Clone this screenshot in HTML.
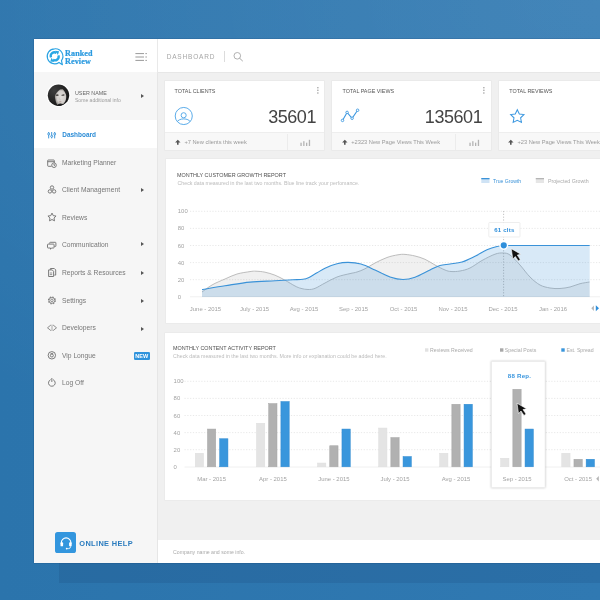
<!DOCTYPE html>
<html>
<head>
<meta charset="utf-8">
<title>Dashboard</title>
<style>
*{margin:0;padding:0;box-sizing:border-box;}
html,body{width:600px;height:600px;overflow:hidden;}
body{position:relative;font-family:"Liberation Sans",sans-serif;color:#777;
  background:#2d76ae;
  background-image:radial-gradient(ellipse 900px 520px at 100% 0%, rgba(255,255,255,.095) 0%, rgba(255,255,255,.05) 45%, rgba(255,255,255,0) 100%),linear-gradient(90deg,#2b74ac 0%,#3079b2 100%);}
.abs{position:absolute;}
.t{position:absolute;white-space:nowrap;line-height:10px;height:10px;margin-top:-5px;}
#shadow{left:59px;top:563px;width:541px;height:20px;background:rgba(15,45,90,.13);}
#panel{left:33.800px;top:39.100px;width:567px;height:523.800px;background:#f0f0f0;box-shadow:0 -.4px 1.200px rgba(0,20,60,.45);}
#side{left:33.800px;top:72px;width:124.200px;height:490.900px;background:#f6f6f6;border-right:1px solid #e6e6e6;}
#top{left:33.800px;top:39.100px;width:567px;height:33.700px;background:#fff;border-bottom:1px solid #e7e7e7;}
#topdiv{left:157px;top:39.100px;width:1px;height:33.700px;background:#e9e9e9;}
#active{left:33.800px;top:119.7px;width:123.200px;height:28.3px;background:#fff;}
.mi{font-size:6.7px;color:#777;left:62px;}
.arr{position:absolute;left:141px;width:0;height:0;border-left:3px solid #555;border-top:2.2px solid transparent;border-bottom:2.2px solid transparent;margin-top:-2.2px;}
.card{position:absolute;top:80.800px;height:69.400px;background:#f8f8f8;box-shadow:0 0 0 .6px #e7e7e7;}
.card .w{position:absolute;left:0;top:0;right:0;height:52.300px;background:#fff;border-bottom:.7px solid #eee;}
.card .dv{position:absolute;top:53px;bottom:0;width:1px;background:#ececec;}
.ct{font-size:5.4px;color:#555;}
.num{position:absolute;font-size:18px;line-height:20px;height:20px;color:#444;letter-spacing:-.45px;white-space:nowrap;}
.ft{font-size:5.7px;color:#999;}
.box{position:absolute;background:#fff;box-shadow:0 0 0 .6px #e8e8e8;}
.ax{font-size:5.95px;color:#a2a2a2;}
.sub{font-size:5.2px;color:#bbb;}
</style>
</head>
<body>
<div id="wrap" style="position:absolute;left:0;top:0;width:600px;height:600px;will-change:transform">
<div id="shadow" class="abs"></div>
<div id="panel" class="abs"></div>
<div id="top" class="abs"></div>
<div id="side" class="abs"></div>
<div id="topdiv" class="abs"></div>
<div id="active" class="abs"></div>

<!-- LOGO -->
<svg class="abs" style="left:44px;top:46px" width="22" height="22" viewBox="0 0 22 22">
  <path d="M10.700 2.800a7.500 7.500 0 1 0 4.300 13.650l3.400 2.300-.95-4.100A7.500 7.500 0 0 0 10.700 2.800z" fill="#fff" stroke="#2ba3e3" stroke-width="1.150" stroke-linejoin="round"/>
  <g fill="none" stroke="#2aa7e4" stroke-width="2.300">
    <path d="M7 11.400A3.700 3.700 0 0 1 12.400 6.900"/>
    <path d="M14.400 9.300A3.700 3.700 0 0 1 9 13.800"/>
  </g>
  <path d="M11.200 4.800l3.900.4-1.200 3.800z" fill="#2aa7e4"/>
  <path d="M10.200 15.900l-3.900-.4 1.200-3.800z" fill="#2aa7e4"/>
</svg>
<div class="t" style="left:65px;top:53.500px;font-family:'Liberation Serif',serif;font-weight:bold;font-size:8.1px;color:#2c9be0;letter-spacing:.12px;-webkit-text-stroke:.22px #2c9be0">Ranked</div>
<div class="t" style="left:65px;top:61.600px;font-family:'Liberation Serif',serif;font-weight:bold;font-size:8.1px;color:#2c9be0;letter-spacing:.12px;-webkit-text-stroke:.22px #2c9be0">Review</div>
<div class="t" style="left:70.500px;top:57.500px;font-size:2.4px;color:#7cc4ec">by</div>

<!-- hamburger -->
<svg class="abs" style="left:134px;top:50px" width="16" height="14" viewBox="0 0 16 14">
  <g stroke="#9a9a9a" stroke-width="1">
    <path d="M1.400 3.600h8.600M11.400 3.600h1.500M1.400 7h8.600M11.400 7h1.500M1.400 10.400h8.600M11.400 10.400h1.500"/>
  </g>
</svg>

<!-- top bar -->
<div class="t" style="left:166.700px;top:56.8px;font-size:6.5px;letter-spacing:.82px;color:#a6a6a6">DASHBOARD</div>
<div class="abs" style="left:224px;top:51px;width:1px;height:10.5px;background:#dcdcdc"></div>
<svg class="abs" style="left:231px;top:50px" width="14" height="13" viewBox="0 0 14 13">
  <circle cx="6.300" cy="5.800" r="3.300" fill="none" stroke="#a8a8a8" stroke-width=".9"/>
  <path d="M8.700 8.300l2.800 2.600" stroke="#a8a8a8" stroke-width="1" stroke-linecap="round"/>
</svg>

<!-- user -->
<svg class="abs" style="left:46px;top:83px" width="25" height="25" viewBox="0 0 25 25">
  <defs><clipPath id="av"><circle cx="12.500" cy="12.200" r="10.700"/></clipPath>
  <radialGradient id="fg" cx=".55" cy=".5" r=".62"><stop offset="0" stop-color="#e2dfdc"/><stop offset=".6" stop-color="#d2cecb"/><stop offset="1" stop-color="#77736f"/></radialGradient>
  <radialGradient id="hg" cx=".3" cy=".3" r=".7"><stop offset="0" stop-color="#3d3d3d"/><stop offset="1" stop-color="#181818"/></radialGradient></defs>
  <circle cx="12.500" cy="12.200" r="11.900" fill="#fff"/>
  <circle cx="12.500" cy="12.200" r="10.700" fill="url(#hg)"/>
  <g clip-path="url(#av)">
    <path d="M14 6.500C11.500 8.300 9.200 11 8.900 13.200C9 16.300 10 19.700 11.300 22L16 22C18 20.700 19.500 18.600 19.800 17C20.400 15 20.400 13 20 11.600C19.300 9.400 18 7.200 16.700 6.200Z" fill="url(#fg)"/>
    <path d="M9.600 11.800l2.300-.5 1 .9-1.300.7-1.700-.2z" fill="#45423f"/>
    <path d="M15.200 11.900l2.500-.7 1.200.7-1.200.9-1.900-.1z" fill="#45423f"/>
    <path d="M13.400 14.500l.3 2.200 1.300.2" fill="none" stroke="#bdb8b3" stroke-width=".4"/>
    <ellipse cx="14.200" cy="18.800" rx="1.500" ry=".55" fill="#b39e99" transform="rotate(-6 14.200 18.800)"/>
    <path d="M11 24l.6-2.500 2.500-1 4 .8 3 3z" fill="#1d1d1d"/>
  </g>
</svg>
<div class="t" style="left:75px;top:93.100px;font-size:5.35px;color:#666">USER NAME</div>
<div class="t" style="left:75px;top:100.200px;font-size:5.05px;color:#9c9c9c">Some additional info</div>
<div class="arr" style="top:96.300px"></div>

<!-- MENU -->
<svg class="abs" style="left:46px;top:130px" width="12" height="10" viewBox="0 0 12 10">
  <g stroke="#2b8cd6" stroke-width=".9" fill="none">
    <path d="M2.700 2v6.400M5.700 2v6.400M8.700 2v6.400"/>
  </g>
  <g fill="#fff" stroke="#2b8cd6" stroke-width=".8"><circle cx="2.700" cy="4" r="1"/><circle cx="5.700" cy="6.300" r="1"/><circle cx="8.700" cy="4" r="1"/></g>
</svg>
<div class="t" style="left:62.300px;top:135px;font-size:6.45px;font-weight:bold;color:#2b8cd6">Dashboard</div>

<svg class="abs" style="left:46px;top:158px" width="12" height="11" viewBox="0 0 12 11">
  <g stroke="#6d6d6d" stroke-width=".9" fill="none" stroke-linejoin="round">
    <path d="M5.500 8.300H2.300a.6.600 0 0 1-.6-.6V2.600a.6.600 0 0 1 .6-.6h5.400a.6.600 0 0 1 .6.600v2.300M1.700 3.700h6.600"/>
    <circle cx="8" cy="7.200" r="2.300" fill="#f6f6f6"/>
    <path d="M8 6v1.300h1"/>
  </g>
</svg>
<div class="t mi" style="top:162.500px">Marketing Planner</div>

<svg class="abs" style="left:46px;top:184px" width="12" height="11" viewBox="0 0 12 11">
  <g stroke="#6d6d6d" stroke-width=".9" fill="none">
    <circle cx="6" cy="3.500" r="1.700"/><circle cx="3.900" cy="7.400" r="1.700"/><circle cx="8.100" cy="7.400" r="1.700"/>
  </g>
</svg>
<div class="t mi" style="top:190px">Client Management</div>
<div class="arr" style="top:190.300px"></div>

<svg class="abs" style="left:46px;top:211px" width="12" height="11" viewBox="0 0 12 11">
  <path d="M6 2.100l1.250 2.550 2.800.4-2.030 1.980.48 2.800L6 8.500 3.500 9.830l.48-2.800L1.950 5.050l2.800-.4z" stroke="#6d6d6d" stroke-width=".9" fill="none" stroke-linejoin="round"/>
</svg>
<div class="t mi" style="top:217.500px">Reviews</div>

<svg class="abs" style="left:46px;top:240px" width="12" height="11" viewBox="0 0 12 11">
  <g stroke="#6d6d6d" stroke-width=".9" fill="none" stroke-linejoin="round">
    <path d="M3.700 3.600V2.900a.6.600 0 0 1 .6-.6h5a.6.600 0 0 1 .6.600v3a.6.600 0 0 1-.6.600H8.500"/>
    <path d="M2.100 4.100h5.400a.6.600 0 0 1 .6.600v2.700a.6.600 0 0 1-.6.600H5.800l-1.300 1.200V8H2.100a.6.600 0 0 1-.6-.6V4.700a.6.600 0 0 1 .6-.6z"/>
  </g>
</svg>
<div class="t mi" style="top:245px">Communication</div>
<div class="arr" style="top:244.500px"></div>

<svg class="abs" style="left:46px;top:266px" width="12" height="12" viewBox="0 0 12 12">
  <g stroke="#6d6d6d" stroke-width=".9" fill="none" stroke-linejoin="round">
    <path d="M4.400 3.700V2.500h3.900l1.400 1.400v5.200H8.300"/>
    <path d="M2.600 3.900h3.600l1.400 1.400v5.200h-5z"/>
    <path d="M3.800 7h2.400M3.800 8.600h2.400" stroke-width=".7"/>
  </g>
</svg>
<div class="t mi" style="top:272.800px">Reports &amp; Resources</div>
<div class="arr" style="top:273px"></div>

<svg class="abs" style="left:46px;top:294.600px" width="12" height="11" viewBox="0 0 12 11">
  <g stroke="#777" fill="none">
    <circle cx="5.900" cy="5.400" r="3.200" stroke-width="1.500" stroke-dasharray="1.400 1.113"/>
    <circle cx="5.900" cy="5.400" r="2.900" stroke-width=".85" fill="#f6f6f6"/>
    <circle cx="5.900" cy="5.400" r="1.250" stroke-width=".8"/>
  </g>
</svg>
<div class="t mi" style="top:300.500px">Settings</div>
<div class="arr" style="top:301px"></div>

<svg class="abs" style="left:46px;top:322.200px" width="12" height="11" viewBox="0 0 12 11">
  <g stroke="#7a7a7a" stroke-width=".85" fill="none" stroke-linejoin="round">
    <path d="M4.900 3L1.500 5.800l3.400 2.800M7.100 3l3.400 2.800-3.400 2.800"/><path d="M6 2.600v6.400" stroke="#999"/>
  </g>
</svg>
<div class="t mi" style="top:328.300px">Developers</div>
<div class="arr" style="top:328.800px"></div>

<svg class="abs" style="left:46px;top:350px" width="12" height="11" viewBox="0 0 12 11">
  <g stroke="#6d6d6d" stroke-width=".9" fill="none">
    <circle cx="5.850" cy="5.300" r="3.700"/><circle cx="5.850" cy="5.500" r="1.500"/><path d="M4.600 3.600h2.500" stroke-width=".8"/>
  </g>
</svg>
<div class="t mi" style="top:355.800px">Vip Longue</div>
<div class="abs" style="left:133.700px;top:352px;width:16.200px;height:8.200px;border-radius:1.300px;background:#2f93dc"></div>
<div class="t" style="left:133.700px;width:16.200px;text-align:center;top:356.150px;font-size:5.5px;font-weight:bold;color:#fff;letter-spacing:.15px">NEW</div>

<svg class="abs" style="left:46px;top:377px" width="12" height="11" viewBox="0 0 12 11">
  <g stroke="#6d6d6d" stroke-width=".9" fill="none" stroke-linecap="round">
    <path d="M4.300 2.800a3.400 3.400 0 1 0 3.100 0M5.850 1.400v3.200"/>
  </g>
</svg>
<div class="t mi" style="top:383.300px">Log Off</div>

<!-- online help -->
<div class="abs" style="left:55.400px;top:532.300px;width:20.500px;height:20.600px;border-radius:2.600px;background:#3396de"></div>
<svg class="abs" style="left:55.500px;top:532.800px" width="20.200" height="20" viewBox="0 0 20.200 20">
  <path d="M5.300 10.600V9.700a4.800 4.800 0 0 1 9.600 0v.9" fill="none" stroke="#fff" stroke-width="1.100"/>
  <rect x="4.500" y="9.300" width="2.600" height="4" rx=".9" fill="#fff"/>
  <rect x="13.100" y="9.300" width="2.600" height="4" rx=".9" fill="#fff"/>
  <path d="M14.600 13v.6a2 2 0 0 1-2 2h-1.400" fill="none" stroke="#fff" stroke-width=".8"/>
  <circle cx="10.700" cy="15.600" r=".9" fill="#fff"/>
</svg>
<div class="t" style="left:79.300px;top:543.800px;font-size:7.4px;font-weight:bold;letter-spacing:.36px;color:#2b7cbf">ONLINE HELP</div>

<!-- CARDS -->
<div class="card" style="left:165.200px;width:158.900px"><div class="w"></div><div class="dv" style="left:121.500px"></div></div>
<div class="card" style="left:332px;width:159.200px"><div class="w"></div><div class="dv" style="left:122.500px"></div></div>
<div class="card" style="left:498.700px;width:110px"><div class="w"></div></div>

<div class="t ct" style="left:174.500px;top:91.300px">TOTAL CLIENTS</div>
<div class="t ct" style="left:342.500px;top:91.300px">TOTAL PAGE VIEWS</div>
<div class="t ct" style="left:509.300px;top:91.300px">TOTAL REVIEWS</div>

<svg class="abs" style="left:174px;top:106px" width="20" height="20" viewBox="0 0 20 20">
  <defs><clipPath id="uc"><circle cx="9.750" cy="10" r="8.300"/></clipPath></defs>
  <circle cx="9.750" cy="10" r="8.550" fill="none" stroke="#4aa3e6" stroke-width=".9"/>
  <circle cx="9.650" cy="9.250" r="2.550" fill="none" stroke="#4aa3e6" stroke-width=".9"/>
  <path d="M2.500 16.500C4 13.900 6.800 12.900 9.750 12.900S15.500 13.900 17 16.500" fill="none" stroke="#4aa3e6" stroke-width=".9" clip-path="url(#uc)"/>
</svg>
<svg class="abs" style="left:340px;top:107px" width="22" height="17" viewBox="0 0 22 17">
  <path d="M2.500 13.400L7.100 5.400l5 5.850L17.600 3.250" fill="none" stroke="#3d98e0" stroke-width="1.100"/>
  <g fill="#fff" stroke="#3d98e0" stroke-width=".9"><circle cx="2.500" cy="13.400" r="1.250"/><circle cx="7.100" cy="5.400" r="1.250"/><circle cx="12.100" cy="11.250" r="1.250"/><circle cx="17.600" cy="3.250" r="1.250"/></g>
</svg>
<svg class="abs" style="left:508px;top:107px" width="19" height="18" viewBox="0 0 19 18">
  <path d="M9.300 2.700l2.050 4.200 4.600.65-3.330 3.250.8 4.600L9.300 13.230 5.180 15.400l.8-4.600L2.650 7.550l4.600-.65z" fill="none" stroke="#3d98e0" stroke-width="1.05" stroke-linejoin="miter"/>
</svg>

<div class="num" style="right:284px;top:106.700px">35601</div>
<div class="num" style="right:117.800px;top:106.700px">135601</div>

<!-- dots -->
<svg class="abs" style="left:316px;top:86px" width="4" height="9" viewBox="0 0 4 9"><g fill="#999"><circle cx="1.900" cy="1.700" r=".75"/><circle cx="1.900" cy="4.300" r=".75"/><circle cx="1.900" cy="6.900" r=".75"/></g></svg>
<svg class="abs" style="left:482px;top:86px" width="4" height="9" viewBox="0 0 4 9"><g fill="#999"><circle cx="1.900" cy="1.700" r=".75"/><circle cx="1.900" cy="4.300" r=".75"/><circle cx="1.900" cy="6.900" r=".75"/></g></svg>

<!-- footers -->
<svg class="abs" style="left:175px;top:139px" width="6" height="6" viewBox="0 0 6 6"><path d="M2.800.7L5.500 3.600H3.600V5.800H2V3.600H.1z" fill="#555"/></svg>
<svg class="abs" style="left:341.500px;top:139px" width="6" height="6" viewBox="0 0 6 6"><path d="M2.800.7L5.500 3.600H3.600V5.800H2V3.600H.1z" fill="#555"/></svg>
<svg class="abs" style="left:508px;top:139px" width="6" height="6" viewBox="0 0 6 6"><path d="M2.800.7L5.500 3.600H3.600V5.800H2V3.600H.1z" fill="#555"/></svg>
<div class="t ft" style="left:184.400px;top:142.200px">+7 New clients this week</div>
<div class="t ft" style="left:351.300px;top:142.200px">+2323 New Page Views This Week</div>
<div class="t ft" style="left:517.500px;top:142.200px">+23 New Page Views This Week</div>
<svg class="abs" style="left:300px;top:139px" width="12" height="8" viewBox="0 0 12 8"><g fill="#b3b3b3"><rect x=".4" y="3.700" width="1.300" height="3.300"/><rect x="3.200" y="2.200" width="1.300" height="4.800"/><rect x="6" y="3.700" width="1.300" height="3.300"/><rect x="8.800" y=".8" width="1.300" height="6.200"/></g></svg>
<svg class="abs" style="left:468.500px;top:139px" width="12" height="8" viewBox="0 0 12 8"><g fill="#b3b3b3"><rect x=".4" y="3.700" width="1.300" height="3.300"/><rect x="3.200" y="2.200" width="1.300" height="4.800"/><rect x="6" y="3.700" width="1.300" height="3.300"/><rect x="8.800" y=".8" width="1.300" height="6.200"/></g></svg>

<!-- GROWTH CHART -->
<div class="box" style="left:165.500px;top:158.700px;width:440px;height:164.500px"></div>
<div class="t" style="left:177px;top:174.500px;font-size:5.45px;color:#505050">MONTHLY CUSTOMER GROWTH REPORT</div>
<div class="t sub" style="left:177.500px;top:182.500px;font-size:5.26px">Check data measured in the last two months. Blue line track your perfomance.</div>
<svg class="abs" style="left:0;top:0" width="600" height="600" viewBox="0 0 600 600">
  <g stroke="#e2e2e2" stroke-width=".8" stroke-dasharray="1.200 1.600">
    <path d="M190 211.300H600M190 228.400H600M190 245.500H600M190 262.600H600M190 279.700H600"/>
  </g>
  <path d="M190 296.800H600" stroke="#f0f0f0" stroke-width="1"/>
  <path d="M503.600 211V297" stroke="#b4b4b4" stroke-width=".8" stroke-dasharray="1.200 1.600"/>
  <path d="M202.0 292.0C203.7 290.8 208.2 287.2 212.0 285.0C215.8 282.8 220.8 280.8 225.0 279.0C229.2 277.2 232.8 275.2 237.0 274.0C241.2 272.8 246.8 272.1 250.0 271.6C253.2 271.1 253.5 271.1 256.0 271.2C258.5 271.3 261.8 271.5 265.0 272.2C268.2 272.9 271.7 273.9 275.0 275.2C278.3 276.5 281.7 278.4 285.0 280.2C288.3 282.0 292.3 284.6 295.0 286.0C297.7 287.4 298.8 287.8 301.0 288.4C303.2 289.0 305.7 289.5 308.0 289.5C310.3 289.5 312.2 289.5 315.0 288.4C317.8 287.3 321.3 284.9 325.0 283.0C328.7 281.1 332.8 278.6 337.0 277.0C341.2 275.4 346.7 274.4 350.0 273.6C353.3 272.8 354.5 272.8 357.0 272.0C359.5 271.2 362.0 270.3 365.0 268.8C368.0 267.3 371.3 264.9 375.0 263.0C378.7 261.1 383.2 258.9 387.0 257.5C390.8 256.1 395.0 255.3 398.0 254.8C401.0 254.3 402.2 254.2 405.0 254.4C407.8 254.6 411.7 255.2 415.0 256.0C418.3 256.8 421.7 257.8 425.0 259.3C428.3 260.8 431.7 263.2 435.0 265.0C438.3 266.8 442.3 268.9 445.0 270.0C447.7 271.1 448.5 271.3 451.0 271.5C453.5 271.7 456.8 271.6 460.0 271.0C463.2 270.4 466.3 269.8 470.0 268.0C473.7 266.2 477.8 262.8 482.0 260.5C486.2 258.2 491.5 255.4 495.0 254.2C498.5 252.9 500.5 252.9 503.0 253.0C505.5 253.1 507.2 253.0 510.0 255.0C512.8 257.0 516.7 261.3 520.0 265.0C523.3 268.7 526.7 273.7 530.0 277.0C533.3 280.3 536.7 283.2 540.0 285.0C543.3 286.8 546.7 287.4 550.0 288.0C553.3 288.6 556.7 288.7 560.0 288.5C563.3 288.3 566.7 287.8 570.0 287.0C573.3 286.2 576.8 284.5 580.0 283.7C583.2 282.9 587.9 282.3 589.5 282.0L589.7 297H202Z" fill="#000" fill-opacity=".058"/>
  <path d="M202.0 292.0C203.7 290.8 208.2 287.2 212.0 285.0C215.8 282.8 220.8 280.8 225.0 279.0C229.2 277.2 232.8 275.2 237.0 274.0C241.2 272.8 246.8 272.1 250.0 271.6C253.2 271.1 253.5 271.1 256.0 271.2C258.5 271.3 261.8 271.5 265.0 272.2C268.2 272.9 271.7 273.9 275.0 275.2C278.3 276.5 281.7 278.4 285.0 280.2C288.3 282.0 292.3 284.6 295.0 286.0C297.7 287.4 298.8 287.8 301.0 288.4C303.2 289.0 305.7 289.5 308.0 289.5C310.3 289.5 312.2 289.5 315.0 288.4C317.8 287.3 321.3 284.9 325.0 283.0C328.7 281.1 332.8 278.6 337.0 277.0C341.2 275.4 346.7 274.4 350.0 273.6C353.3 272.8 354.5 272.8 357.0 272.0C359.5 271.2 362.0 270.3 365.0 268.8C368.0 267.3 371.3 264.9 375.0 263.0C378.7 261.1 383.2 258.9 387.0 257.5C390.8 256.1 395.0 255.3 398.0 254.8C401.0 254.3 402.2 254.2 405.0 254.4C407.8 254.6 411.7 255.2 415.0 256.0C418.3 256.8 421.7 257.8 425.0 259.3C428.3 260.8 431.7 263.2 435.0 265.0C438.3 266.8 442.3 268.9 445.0 270.0C447.7 271.1 448.5 271.3 451.0 271.5C453.5 271.7 456.8 271.6 460.0 271.0C463.2 270.4 466.3 269.8 470.0 268.0C473.7 266.2 477.8 262.8 482.0 260.5C486.2 258.2 491.5 255.4 495.0 254.2C498.5 252.9 500.5 252.9 503.0 253.0C505.5 253.1 507.2 253.0 510.0 255.0C512.8 257.0 516.7 261.3 520.0 265.0C523.3 268.7 526.7 273.7 530.0 277.0C533.3 280.3 536.7 283.2 540.0 285.0C543.3 286.8 546.7 287.4 550.0 288.0C553.3 288.6 556.7 288.7 560.0 288.5C563.3 288.3 566.7 287.8 570.0 287.0C573.3 286.2 576.8 284.5 580.0 283.7C583.2 282.9 587.9 282.3 589.5 282.0" fill="none" stroke="#b6b6b6" stroke-width=".9"/>
  <path d="M202.0 289.5C205.8 288.9 217.0 286.9 225.0 285.7C233.0 284.5 241.7 282.9 250.0 282.1C258.3 281.3 267.8 281.2 275.0 280.8C282.2 280.4 288.3 280.1 293.0 279.8C297.7 279.6 300.3 279.7 303.0 279.3C305.7 278.9 306.7 278.5 309.0 277.4C311.3 276.3 314.3 274.3 317.0 272.8C319.7 271.3 321.7 269.7 325.0 268.2C328.3 266.7 333.2 264.8 337.0 263.8C340.8 262.8 344.0 262.4 348.0 262.4C352.0 262.4 356.5 262.7 361.0 264.0C365.5 265.3 370.2 267.8 375.0 270.0C379.8 272.2 385.3 275.4 390.0 277.0C394.7 278.6 398.8 279.5 403.0 279.5C407.2 279.5 410.5 278.8 415.0 277.2C419.5 275.6 425.8 271.9 430.0 270.0C434.2 268.1 436.7 266.5 440.0 265.5C443.3 264.5 446.3 264.6 450.0 264.0C453.7 263.4 457.8 263.3 462.0 262.0C466.2 260.7 470.8 258.3 475.0 256.3C479.2 254.3 483.3 251.4 487.0 249.8C490.7 248.2 494.2 247.2 497.0 246.5C499.8 245.8 502.6 245.7 503.8 245.5L589.7 245.5L589.7 297H202Z" fill="#3a92d8" fill-opacity=".2"/>
  <path d="M202.0 289.5C205.8 288.9 217.0 286.9 225.0 285.7C233.0 284.5 241.7 282.9 250.0 282.1C258.3 281.3 267.8 281.2 275.0 280.8C282.2 280.4 288.3 280.1 293.0 279.8C297.7 279.6 300.3 279.7 303.0 279.3C305.7 278.9 306.7 278.5 309.0 277.4C311.3 276.3 314.3 274.3 317.0 272.8C319.7 271.3 321.7 269.7 325.0 268.2C328.3 266.7 333.2 264.8 337.0 263.8C340.8 262.8 344.0 262.4 348.0 262.4C352.0 262.4 356.5 262.7 361.0 264.0C365.5 265.3 370.2 267.8 375.0 270.0C379.8 272.2 385.3 275.4 390.0 277.0C394.7 278.6 398.8 279.5 403.0 279.5C407.2 279.5 410.5 278.8 415.0 277.2C419.5 275.6 425.8 271.9 430.0 270.0C434.2 268.1 436.7 266.5 440.0 265.5C443.3 264.5 446.3 264.6 450.0 264.0C453.7 263.4 457.8 263.3 462.0 262.0C466.2 260.7 470.8 258.3 475.0 256.3C479.2 254.3 483.3 251.4 487.0 249.8C490.7 248.2 494.2 247.2 497.0 246.5C499.8 245.8 502.6 245.7 503.8 245.5L589.7 245.5" fill="none" stroke="#3a92d8" stroke-width="1.100"/>
  <rect x="488.800" y="222.500" width="31.200" height="14.500" rx=".8" fill="#fff" fill-opacity=".9" stroke="#e6e6e6" stroke-width=".7"/>
  <circle cx="503.750" cy="245.300" r="3.800" fill="#2f8fdb" stroke="#fff" stroke-width="1.400"/>
  <path d="M511.300 248.700l1.500 10.400 2.500-2.600 3 4.400 2-1.400-3-4.400 3.500-.9z" fill="#111" stroke="#fff" stroke-width=".6" stroke-linejoin="round"/>
  <!-- legend icons -->
  <rect x="481.300" y="178" width="8.200" height="5" fill="#cfe3f5"/><rect x="481.300" y="178" width="8.200" height="1.300" fill="#3a92d8"/>
  <rect x="535.800" y="178" width="8.200" height="5" fill="#e6e6e6"/><rect x="535.800" y="178" width="8.200" height="1.300" fill="#b5b5b5"/>
  <!-- nav arrows -->
  <path d="M593.900 305.500v5.400l-2.600-2.700z" fill="#b4b4b4"/><path d="M595.800 305.200v6l3.200-3z" fill="#2f8fdb"/>
</svg>
<div class="t" style="left:474.400px;width:60px;text-align:center;top:229.800px;font-size:6.1px;letter-spacing:.2px;font-weight:bold;color:#2f8fdb">61 clts</div>
<div class="t" style="left:493px;top:180.800px;font-size:5.12px;color:#3a92d8">True Growth</div>
<div class="t" style="left:548px;top:180.800px;font-size:5.27px;color:#aaa">Projected Growth</div>
<div class="t ax" style="left:177.800px;top:211.3px">100</div>
<div class="t ax" style="left:177.800px;top:228.4px">80</div>
<div class="t ax" style="left:177.800px;top:245.5px">60</div>
<div class="t ax" style="left:177.800px;top:262.6px">40</div>
<div class="t ax" style="left:177.800px;top:279.7px">20</div>
<div class="t ax" style="left:177.800px;top:297px">0</div>
<div class="t ax" style="left:175.5px;width:60px;text-align:center;top:309.300px">June - 2015</div>
<div class="t ax" style="left:224.5px;width:60px;text-align:center;top:309.300px">July - 2015</div>
<div class="t ax" style="left:274px;width:60px;text-align:center;top:309.300px">Avg - 2015</div>
<div class="t ax" style="left:323.5px;width:60px;text-align:center;top:309.300px">Sep - 2015</div>
<div class="t ax" style="left:373.5px;width:60px;text-align:center;top:309.300px">Oct - 2015</div>
<div class="t ax" style="left:423px;width:60px;text-align:center;top:309.300px">Nov - 2015</div>
<div class="t ax" style="left:473px;width:60px;text-align:center;top:309.300px">Dec - 2015</div>
<div class="t ax" style="left:523px;width:60px;text-align:center;top:309.300px">Jan - 2016</div>

<!-- BAR CHART -->
<div class="box" style="left:165px;top:333px;width:440px;height:167px"></div>
<div class="box" style="left:158px;top:540px;width:445px;height:23px;box-shadow:none"></div>
<div class="t sub" style="left:173px;top:552px;font-size:5.2px;color:#aaa">Company name and some info.</div>
<div class="t" style="left:173px;top:347.500px;font-size:5.41px;color:#505050">MONTHLY CONTENT ACTIVITY REPORT</div>
<div class="t sub" style="left:173px;top:356px;font-size:5.26px">Check data measured in the last two months. More info or explanation could be added here.</div>
<svg class="abs" style="left:0;top:0" width="600" height="600" viewBox="0 0 600 600">
  <g stroke="#e2e2e2" stroke-width=".8" stroke-dasharray="1.200 1.600">
    <path d="M184.500 381.300H600M184.500 398.400H600M184.500 415.500H600M184.500 432.600H600M184.500 449.700H600"/>
  </g>
  <path d="M184.500 467H600" stroke="#f0f0f0" stroke-width="1"/>
  <rect x="491.500" y="361.500" width="53.500" height="126" fill="#fff" stroke="#ebebeb" stroke-width=".6" style="filter:drop-shadow(.8px .9px .9px rgba(0,0,0,.24))"/>
  
  <rect x="195.25" y="453.25" width="8.30" height="13.55" fill="#e4e4e4" stroke="#dedede" stroke-width=".5"/><rect x="207.45" y="429.05" width="8.30" height="37.75" fill="#b1b1b1" stroke="#a6a6a6" stroke-width=".5"/><rect x="219.65" y="438.75" width="8.30" height="28.05" fill="#3996dc" stroke="#2f89d0" stroke-width=".5"/><rect x="256.50" y="423.25" width="8.30" height="43.55" fill="#e4e4e4" stroke="#dedede" stroke-width=".5"/><rect x="268.70" y="403.55" width="8.30" height="63.25" fill="#b1b1b1" stroke="#a6a6a6" stroke-width=".5"/><rect x="280.90" y="401.55" width="8.30" height="65.25" fill="#3996dc" stroke="#2f89d0" stroke-width=".5"/><rect x="317.55" y="463.05" width="8.30" height="3.75" fill="#e4e4e4" stroke="#dedede" stroke-width=".5"/><rect x="329.75" y="445.75" width="8.30" height="21.05" fill="#b1b1b1" stroke="#a6a6a6" stroke-width=".5"/><rect x="341.95" y="429.05" width="8.30" height="37.75" fill="#3996dc" stroke="#2f89d0" stroke-width=".5"/><rect x="378.65" y="428.05" width="8.30" height="38.75" fill="#e4e4e4" stroke="#dedede" stroke-width=".5"/><rect x="390.85" y="437.55" width="8.30" height="29.25" fill="#b1b1b1" stroke="#a6a6a6" stroke-width=".5"/><rect x="403.05" y="456.55" width="8.30" height="10.25" fill="#3996dc" stroke="#2f89d0" stroke-width=".5"/><rect x="439.65" y="453.25" width="8.30" height="13.55" fill="#e4e4e4" stroke="#dedede" stroke-width=".5"/><rect x="451.85" y="404.25" width="8.30" height="62.55" fill="#b1b1b1" stroke="#a6a6a6" stroke-width=".5"/><rect x="464.05" y="404.25" width="8.30" height="62.55" fill="#3996dc" stroke="#2f89d0" stroke-width=".5"/><rect x="500.65" y="458.25" width="8.30" height="8.55" fill="#e4e4e4" stroke="#dedede" stroke-width=".5"/><rect x="512.85" y="389.25" width="8.30" height="77.55" fill="#b1b1b1" stroke="#a6a6a6" stroke-width=".5"/><rect x="525.05" y="429.05" width="8.30" height="37.75" fill="#3996dc" stroke="#2f89d0" stroke-width=".5"/><rect x="561.75" y="453.25" width="8.30" height="13.55" fill="#e4e4e4" stroke="#dedede" stroke-width=".5"/><rect x="573.95" y="459.25" width="8.30" height="7.55" fill="#b1b1b1" stroke="#a6a6a6" stroke-width=".5"/><rect x="586.15" y="459.25" width="8.30" height="7.55" fill="#3996dc" stroke="#2f89d0" stroke-width=".5"/>
  <path d="M517 403.200l1.500 10.400 2.500-2.600 3 4.400 2-1.400-3-4.400 3.500-.9z" fill="#111" stroke="#fff" stroke-width=".6" stroke-linejoin="round"/>
  <rect x="425" y="348.300" width="3.400" height="3.400" fill="#e2e2e2"/>
  <rect x="500" y="348.300" width="3.400" height="3.400" fill="#a9a9a9"/>
  <rect x="561.300" y="348.300" width="3.400" height="3.400" fill="#3996dc"/>
  <path d="M598.800 476v5.400l-2.600-2.700z" fill="#b4b4b4"/>
</svg>
<div class="t" style="left:489.500px;width:60px;text-align:center;top:375.600px;font-size:6.2px;letter-spacing:.2px;font-weight:bold;color:#3a96de">88 Rep.</div>
<div class="t" style="left:430px;top:350px;font-size:5.2px;color:#aaa">Reviews Received</div>
<div class="t" style="left:504.800px;top:350px;font-size:5.2px;color:#aaa">Special Posts</div>
<div class="t" style="left:566.500px;top:350px;font-size:5.2px;color:#aaa">Est. Spread</div>
<div class="t ax" style="left:173.600px;top:381.3px">100</div>
<div class="t ax" style="left:173.600px;top:398.4px">80</div>
<div class="t ax" style="left:173.600px;top:415.5px">60</div>
<div class="t ax" style="left:173.600px;top:432.6px">40</div>
<div class="t ax" style="left:173.600px;top:449.7px">20</div>
<div class="t ax" style="left:173.600px;top:467px">0</div>
<div class="t ax" style="left:181.6px;width:60px;text-align:center;top:478.500px">Mar - 2015</div>
<div class="t ax" style="left:242.9px;width:60px;text-align:center;top:478.500px">Apr - 2015</div>
<div class="t ax" style="left:303.9px;width:60px;text-align:center;top:478.500px">June - 2015</div>
<div class="t ax" style="left:365.0px;width:60px;text-align:center;top:478.500px">July - 2015</div>
<div class="t ax" style="left:426.0px;width:60px;text-align:center;top:478.500px">Avg - 2015</div>
<div class="t ax" style="left:487.0px;width:60px;text-align:center;top:478.500px">Sep - 2015</div>
<div class="t ax" style="left:548.1px;width:60px;text-align:center;top:478.500px">Oct - 2015</div>
</div>
</body>
</html>
